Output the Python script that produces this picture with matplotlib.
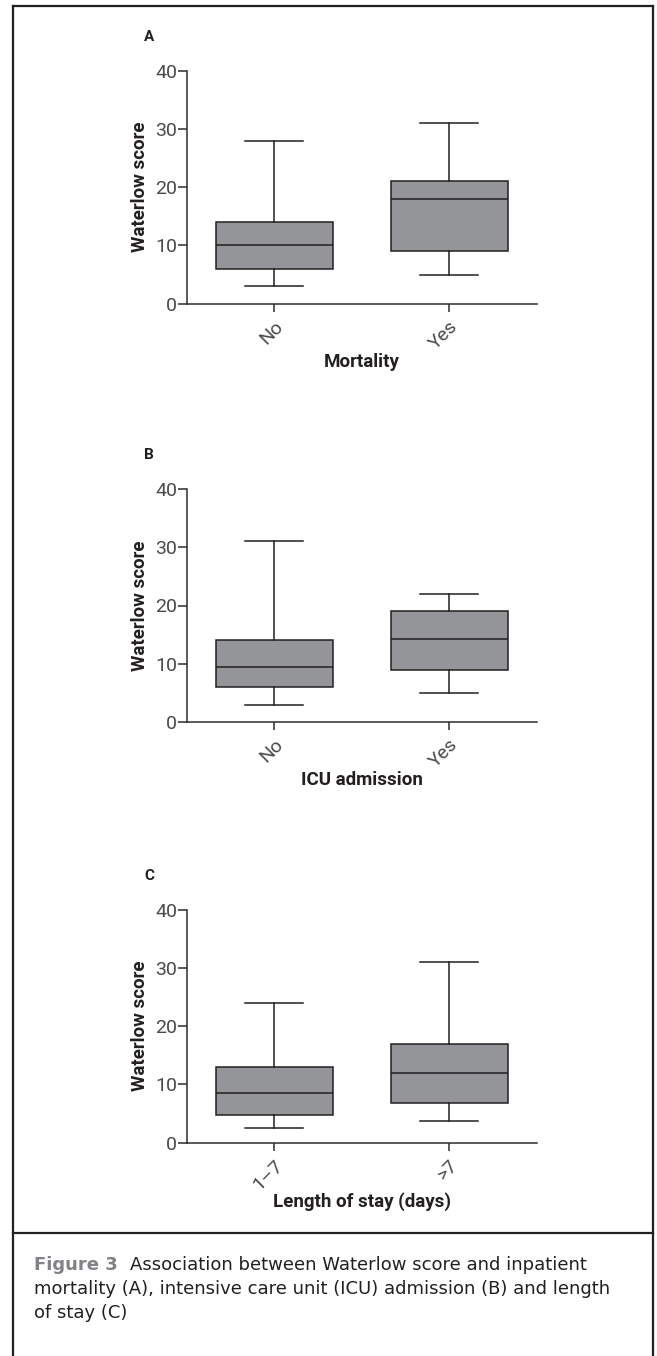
import matplotlib

matplotlib.use("Agg")
import matplotlib.pyplot as plt
from matplotlib.lines import Line2D

# Box summaries (Waterlow score)
panel_letters = ["A", "B", "C"]
x_titles = ["Mortality", "ICU admission", "Length of stay (days)"]
group_labels = [["No", "Yes"], ["No", "Yes"], ["1\u20137", ">7"]]
whisker_low = [[3, 5], [3, 5], [2.6, 3.8]]
q1 = [[6, 9], [6, 9], [4.75, 6.8]]
median = [[10, 18], [9.5, 14.3], [8.6, 12]]
q3 = [[14, 21], [14, 19], [13, 17]]
whisker_high = [[28, 31], [31, 22], [24, 31]]
y_ticks = [0, 10, 20, 30, 40]

caption_head = "Figure 3"
caption_lines = [
    "Association between Waterlow score and inpatient",
    "mortality (A), intensive care unit (ICU) admission (B) and length",
    "of stay (C)",
]

EDGE = "#231f20"
FILL = "#939598"
AXIS = "#2e2e2e"
LABEL_FONT = ["Roboto", "DejaVu Sans"]
TICK_FONT = ["Roboto", "DejaVu Sans"]
W, H = 657, 1356

fig = plt.figure(figsize=(W / 100, H / 100), dpi=100)

bottoms = [1 - 303.7 / H, 1 - 722 / H, 1 - 1142.7 / H]
for i in range(3):
    ax = fig.add_axes([186.7 / W, bottoms[i], 350 / W, 233 / H])
    stats = []
    for j in range(2):
        stats.append({
            "whislo": whisker_low[i][j],
            "q1": q1[i][j],
            "med": median[i][j],
            "q3": q3[i][j],
            "whishi": whisker_high[i][j],
            "fliers": [],
        })
    ax.bxp(stats, positions=[1, 2], widths=0.667, capwidths=0.333,
           patch_artist=True, showfliers=False,
           boxprops=dict(facecolor=FILL, edgecolor=EDGE, linewidth=1.1),
           whiskerprops=dict(color=EDGE, linewidth=1.1),
           capprops=dict(color=EDGE, linewidth=1.1),
           medianprops=dict(color=EDGE, linewidth=1.1))
    ax.set_xlim(0.5, 2.5)
    ax.set_ylim(0, 40)
    ax.set_yticks(y_ticks)
    ax.set_xticks([1, 2])
    ax.set_xticklabels(group_labels[i], rotation=45, ha="right", va="top",
                       rotation_mode="anchor")
    for lab in ax.get_xticklabels() + ax.get_yticklabels():
        lab.set_fontfamily(TICK_FONT)
        lab.set_fontweight("normal")
        lab.set_fontsize(14)
        lab.set_color("#4a4a4a")
    ax.tick_params(axis="y", length=6.5, width=1.1, color=AXIS, pad=0.5)
    ax.tick_params(axis="x", length=5.8, width=1.1, color=AXIS, pad=4)
    for side in ["top", "right"]:
        ax.spines[side].set_visible(False)
    for side in ["left", "bottom"]:
        ax.spines[side].set_linewidth(1.1)
        ax.spines[side].set_color(AXIS)

    ax.set_ylabel("Waterlow score", family=LABEL_FONT, fontweight="bold",
                  fontsize=13.5, color=EDGE)
    ax.yaxis.set_label_coords(-0.107, 0.5)
    ax.set_xlabel(x_titles[i], family=LABEL_FONT, fontweight="bold",
                  fontsize=13.5, color=EDGE)
    ax.xaxis.set_label_coords(0.5, -0.212)
    ax.text(-0.108, 1.146, panel_letters[i], transform=ax.transAxes,
            ha="center", va="center", family=LABEL_FONT, fontweight="bold",
            fontsize=11, color=EDGE)

# frame around the figure and caption separator
left, right, top, sep = 12.7 / W, 652.7 / W, 1 - 5.7 / H, 1 - 1233 / H
for xs, ys in [([left, left], [0, top]), ([right, right], [0, top]),
               ([left, right], [top, top]), ([left, right], [sep, sep])]:
    fig.add_artist(Line2D(xs, ys, transform=fig.transFigure, color=EDGE,
                          linewidth=1.6, solid_capstyle="projecting"))

# caption
x0 = 34 / W
line_y = [1265, 1289, 1313]
renderer = fig.canvas.get_renderer()
head = fig.text(x0, 1 - line_y[0] / H, caption_head, ha="left", va="center",
                fontsize=13, fontweight="bold", color="#808285",
                family="DejaVu Sans")
ext = head.get_window_extent(renderer=renderer)
fig.text((ext.x1 + 12) / W, 1 - line_y[0] / H, caption_lines[0], ha="left",
         va="center", fontsize=13, color=EDGE, family="DejaVu Sans")
for k in (1, 2):
    fig.text(x0, 1 - line_y[k] / H, caption_lines[k], ha="left", va="center",
             fontsize=13, color=EDGE, family="DejaVu Sans")

fig.savefig("out.png", dpi=100)
